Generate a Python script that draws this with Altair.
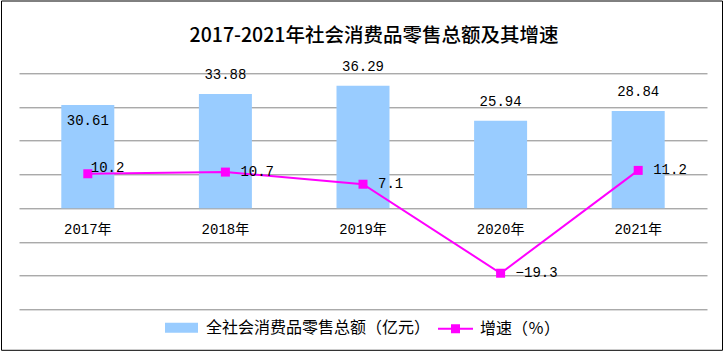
import altair as alt
import pandas as pd

years = ["2017年", "2018年", "2019年", "2020年", "2021年"]
sales = [30.61, 33.88, 36.29, 25.94, 28.84]
growth = [10.2, 10.7, 7.1, -19.3, 11.2]
title_text = "2017-2021年社会消费品零售总额及其增速"
bar_name = "全社会消费品零售总额（亿元）"
line_name = "增速（％）"
grid_values = [-30, -20, -10, 0, 10, 20, 30, 40]

df = pd.DataFrame({
    "year": years,
    "sales": sales,
    "growth": growth,
    "bar_name": [bar_name] * len(years),
    "line_name": [line_name] * len(years),
})

NUM_FONT = "Liberation Mono, Noto Sans CJK SC"
CJK_FONT = "Noto Sans CJK SC"
BLUE = "#99CCFF"
MAGENTA = "#FF00FF"

x_enc = alt.X(
    "year:N", sort=years,
    scale=alt.Scale(paddingInner=0, paddingOuter=0),
    axis=alt.Axis(title=None, orient="bottom", offset=-101, domain=False, ticks=False,
                  labelPadding=14, labelAngle=0, labelFont=NUM_FONT, labelFontSize=14,
                  labelColor="black", grid=False),
)
y_scale = alt.Scale(domain=[-30, 40], nice=False, zero=False)
y_axis = alt.Axis(title=None, values=grid_values, labels=False, domain=False,
                  ticks=False, grid=True, gridColor="#868686", gridWidth=1)

base = alt.Chart(df)

bars = base.mark_bar(size=53).encode(
    x=x_enc,
    y=alt.Y("sales:Q", scale=y_scale, axis=y_axis),
    color=alt.Color("bar_name:N", scale=alt.Scale(range=[BLUE]),
                    legend=alt.Legend(title=None, orient="none", legendX=145, legendY=237,
                                      padding=0,
                                      symbolType="M-1,-0.3H1V0.3H-1Z", symbolSize=1089,
                                      labelFont=CJK_FONT, labelFontSize=16, labelColor="black",
                                      labelOffset=7, labelLimit=400)),
)

bar_labels = base.mark_text(dy=-19, font=NUM_FONT, fontSize=14, color="black", baseline="middle").encode(
    x=alt.X("year:N", sort=years),
    y=alt.Y("sales:Q", scale=y_scale, axis=y_axis),
    text=alt.Text("sales:Q", format=".2f"),
).transform_filter(alt.datum.year != years[0])

bar_label_first = base.mark_text(dy=16, font=NUM_FONT, fontSize=14, color="black", baseline="middle").encode(
    x=alt.X("year:N", sort=years),
    y=alt.Y("sales:Q", scale=y_scale, axis=y_axis),
    text=alt.Text("sales:Q", format=".2f"),
).transform_filter(alt.datum.year == years[0])

line = base.mark_line(
    strokeWidth=2,
    point=alt.OverlayMarkDef(shape="square", size=81, filled=True, color=MAGENTA, opacity=1),
).encode(
    x=alt.X("year:N", sort=years),
    y=alt.Y("growth:Q", scale=y_scale, axis=y_axis),
    color=alt.Color("line_name:N", scale=alt.Scale(range=[MAGENTA]),
                    legend=alt.Legend(title=None, orient="none", legendX=418, legendY=237,
                                      padding=0,
                                      symbolType="M-1,0H1M-0.2,-0.2H0.2V0.2H-0.2Z", symbolSize=1225,
                                      symbolStrokeWidth=2, symbolFillColor=MAGENTA,
                                      symbolStrokeColor=MAGENTA,
                                      labelFont=CJK_FONT, labelFontSize=16, labelColor="black",
                                      labelOffset=6, labelLimit=400)),
)

line_labels = base.mark_text(align="left", dx=15, baseline="middle", font=NUM_FONT, fontSize=14,
                             color="black").encode(
    x=alt.X("year:N", sort=years),
    y=alt.Y("growth:Q", scale=y_scale, axis=y_axis),
    text=alt.Text("growth:Q", format=".1f"),
).transform_filter(alt.datum.year != years[0])

line_label_first = base.mark_text(align="left", dx=3, dy=-6, baseline="middle", font=NUM_FONT,
                                  fontSize=14, color="black").encode(
    x=alt.X("year:N", sort=years),
    y=alt.Y("growth:Q", scale=y_scale, axis=y_axis),
    text=alt.Text("growth:Q", format=".1f"),
).transform_filter(alt.datum.year == years[0])

frame = alt.Chart(alt.Data(values=[{"k": 1}])).mark_rect(
    fill=None, stroke="black", strokeWidth=1
).encode(
    x=alt.value(-17.5), x2=alt.value(703.5), y=alt.value(-72.3), y2=alt.value(277)
)

chart = alt.layer(
    bars, bar_labels, bar_label_first, line, line_labels, line_label_first, frame
).resolve_scale(color="independent").properties(
    width=688, height=236,
    autosize=alt.AutoSizeParams(type="none"),
    padding={"left": 19, "top": 73.3, "right": 18, "bottom": 42.7},
    title=alt.TitleParams(title_text, font=CJK_FONT, fontSize=19.5, fontWeight=500,
                          color="black", anchor="middle", dx=11, dy=46, offset=0),
    background="white",
).configure_view(stroke=None)

chart.save("out.html", embed_options={"renderer": "svg", "actions": False})
